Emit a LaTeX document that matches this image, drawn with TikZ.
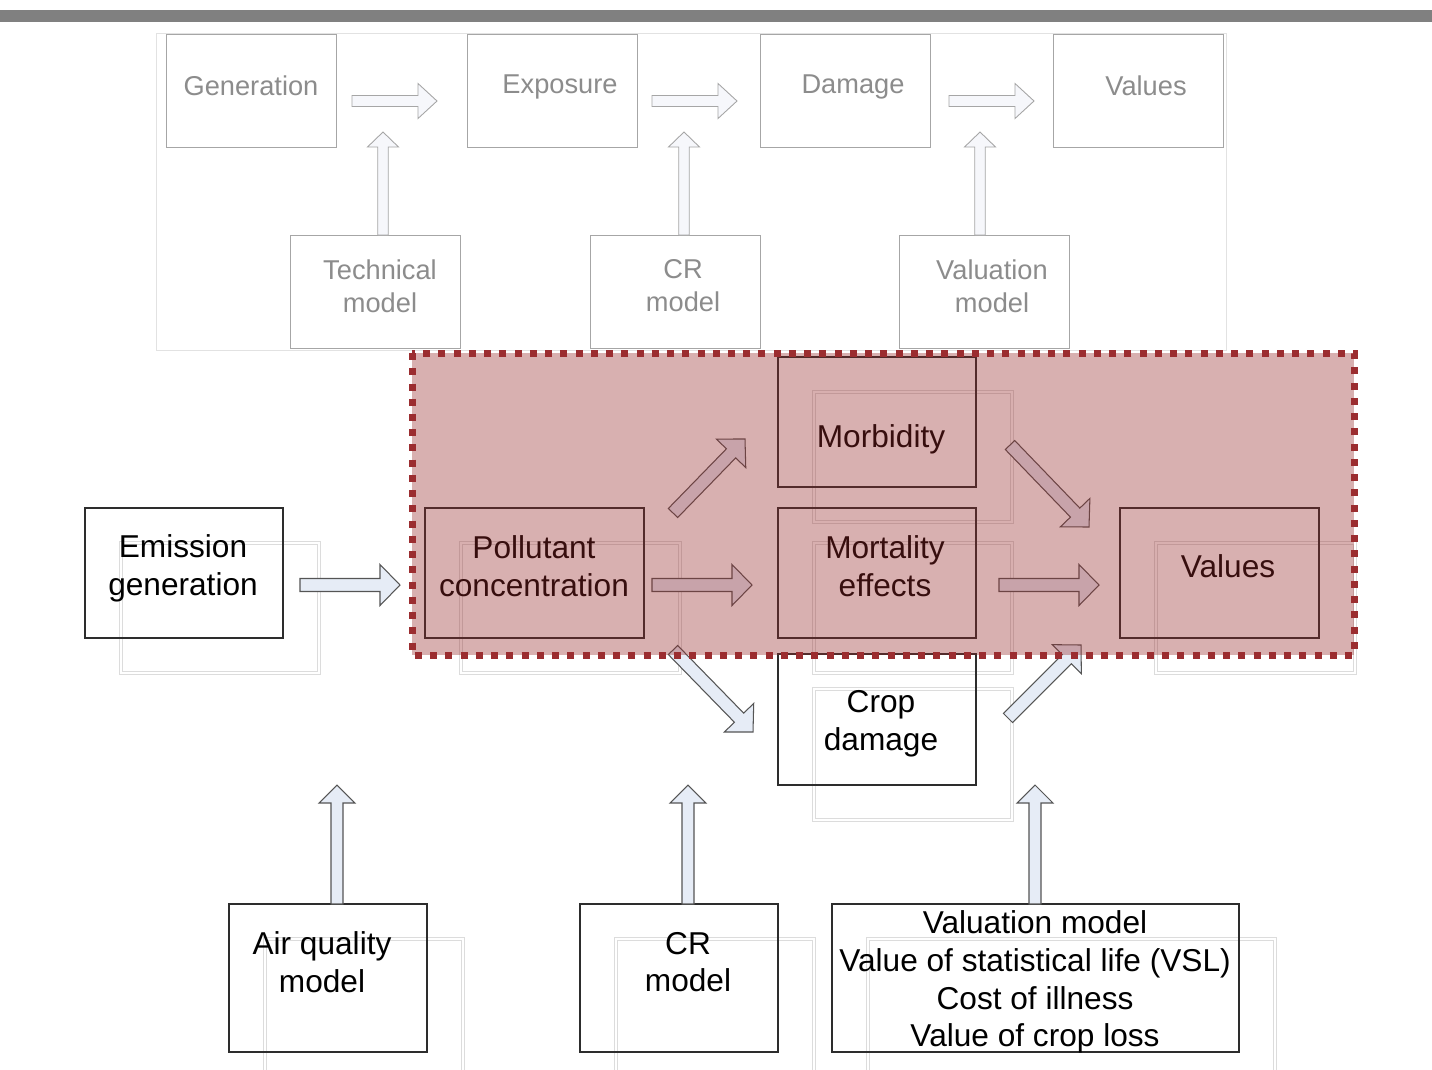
\documentclass[tikz,border=0pt]{standalone}
\usepackage{fontspec}
\setmainfont{Liberation Sans}
\usetikzlibrary{calc}

\definecolor{bargray}{RGB}{128,128,128}
\definecolor{panelline}{RGB}{226,226,226}
\definecolor{topline}{RGB}{166,166,166}
\definecolor{toptext}{RGB}{140,140,140}
\definecolor{topfill}{RGB}{246,247,251}
\definecolor{boxline}{RGB}{45,45,45}
\definecolor{ghostline}{RGB}{220,220,220}
\definecolor{arrowfill}{RGB}{230,236,246}
\definecolor{arrowline}{RGB}{85,85,85}
\definecolor{regionfill}{RGB}{150,40,40}
\definecolor{regionline}{RGB}{155,45,48}

% #1 style, #2 tail, #3 tip, #4 half shaft, #5 half head, #6 head length
\newcommand{\blockarrow}[6]{%
  \coordinate (hb) at ($(#3)!#6!(#2)$);
  \draw[#1] ($(#2)!#4!90:(#3)$) -- ($(hb)!#4!90:(#3)$) -- ($(hb)!#5!90:(#3)$)
    -- (#3) -- ($(hb)!#5!-90:(#3)$) -- ($(hb)!#4!-90:(#3)$) -- ($(#2)!#4!-90:(#3)$) -- cycle;}

\tikzset{
  toparrow/.style={fill=topfill, draw=topline, line width=0.5pt},
  midarrow/.style={fill=arrowfill, draw=arrowline, line width=0.6pt},
  bigfont/.style={font=\fontsize{18}{21.5}\selectfont},
  smallfont/.style={font=\fontsize{15.5}{18.7}\selectfont}
}

\begin{document}
\begin{tikzpicture}[x=0.02cm, y=-0.02cm]
  \useasboundingbox (0,0) rectangle (1432,1069);
  \clip (0,0) rectangle (1432,1069);

  \fill[bargray] (0,10) rectangle (1432,22);
  \draw[panelline, fill=white, line width=0.5pt] (156,33) rectangle (1226,350);

  \begin{scope}[every node/.style={draw=topline, line width=0.55pt, inner sep=0pt,
      minimum width=3.4cm, minimum height=2.26cm}]
    \node (gen)   at (251.5,90.5)  {};
    \node (expo)  at (552,90.5)    {};
    \node (dam)   at (845.5,90.5)  {};
    \node (tval)  at (1138.5,90.5) {};
    \node (tech)  at (375,291.5)   {};
    \node (tcr)   at (675.5,291.5) {};
    \node (tvalm) at (984.5,291.5) {};
  \end{scope}

  \begin{scope}[every node/.style={smallfont, text=toptext, align=center, inner sep=0pt}]
    \node (gen-t)   at (251,86)  {Generation};
    \node (expo-t)  at (560,87)  {Exposure};
    \node (dam-t)   at (853,87)  {Damage};
    \node (tval-t)  at (1146,86) {Values};
    \node (tech-t)  at (380,286) {Technical\\model};
    \node (tcr-t)   at (683,286) {CR\\model};
    \node (tvalm-t) at (992,286) {Valuation\\model};
  \end{scope}

  \coordinate (ta1) at (352,101);  \coordinate (tb1) at (437,101);
  \coordinate (ta2) at (652,101);  \coordinate (tb2) at (737,101);
  \coordinate (ta3) at (949,101);  \coordinate (tb3) at (1034,101);
  \coordinate (tu1) at (383,235);  \coordinate (tv1) at (383,132);
  \coordinate (tu2) at (684,235);  \coordinate (tv2) at (684,132);
  \coordinate (tu3) at (980,235);  \coordinate (tv3) at (980,132);
  \foreach \i in {1,2,3} {
    \blockarrow{toparrow}{ta\i}{tb\i}{0.11cm}{0.35cm}{0.38cm}
    \blockarrow{toparrow}{tu\i}{tv\i}{0.105cm}{0.31cm}{0.30cm}
  }

  \begin{scope}[every node/.style={draw=ghostline, line width=0.35pt, double=white,
      double distance=1.2pt, inner sep=0pt}]
    \node[minimum width=3.96cm, minimum height=2.6cm] (emis-g) at (220,608)   {};
    \node[minimum width=4.38cm, minimum height=2.6cm] (poll-g) at (570.5,608) {};
    \node[minimum width=3.96cm, minimum height=2.6cm] (morb-g) at (913,457)   {};
    \node[minimum width=3.96cm, minimum height=2.6cm] (mort-g) at (913,608)   {};
    \node[minimum width=3.98cm, minimum height=2.6cm] (val-g)  at (1255.5,608) {};
    \node[minimum width=3.96cm, minimum height=2.62cm] (crop-g) at (913,754.5) {};
    \node[minimum width=3.96cm, minimum height=2.96cm] (air-g)  at (364,1013)  {};
    \node[minimum width=3.96cm, minimum height=2.96cm] (crb-g)  at (715,1013)  {};
    \node[minimum width=8.14cm, minimum height=2.96cm] (valm-g) at (1071.5,1013) {};
  \end{scope}

  \begin{scope}[every node/.style={draw=boxline, line width=0.85pt, inner sep=0pt}]
    \node[minimum width=3.96cm, minimum height=2.6cm] (emis) at (184,573)   {};
    \node[minimum width=4.38cm, minimum height=2.6cm] (poll) at (534.5,573) {};
    \node[minimum width=3.96cm, minimum height=2.6cm] (morb) at (877,422)   {};
    \node[minimum width=3.96cm, minimum height=2.6cm] (mort) at (877,573)   {};
    \node[minimum width=3.98cm, minimum height=2.6cm] (val)  at (1219.5,573) {};
    \node[minimum width=3.96cm, minimum height=2.62cm] (crop) at (877,719.5) {};
    \node[minimum width=3.96cm, minimum height=2.96cm] (air)  at (328,978)  {};
    \node[minimum width=3.96cm, minimum height=2.96cm] (crb)  at (679,978)  {};
    \node[minimum width=8.14cm, minimum height=2.96cm] (valm) at (1035.5,978) {};
  \end{scope}

  \begin{scope}[every node/.style={bigfont, text=black, align=center, inner sep=0pt}]
    \node (emis-t) at (183,568)  {Emission\\generation};
    \node (poll-t) at (534,566)  {Pollutant\\concentration};
    \node (morb-t) at (881,439)  {Morbidity};
    \node (mort-t) at (885,566)  {Mortality\\effects};
    \node (val-t)  at (1228,566) {Values};
    \node (crop-t) at (881,724)  {Crop\\damage};
    \node (air-t)  at (322,962)  {Air quality\\model};
    \node (crb-t)  at (688,962)  {CR\\model};
    \node (valm-t) at (1035,982) {Valuation model\\Value of statistical life (VSL)\\Cost of illness\\Value of crop loss};
  \end{scope}

  \coordinate (ma1) at (300,585);  \coordinate (mb1) at (400,585);
  \coordinate (ma2) at (652,585);  \coordinate (mb2) at (752,585);
  \coordinate (ma3) at (999,585);  \coordinate (mb3) at (1099,585);
  \coordinate (ma4) at (673,513);  \coordinate (mb4) at (745,439);
  \coordinate (ma5) at (1010,445); \coordinate (mb5) at (1089,527);
  \coordinate (ma6) at (673,650);  \coordinate (mb6) at (753,732);
  \coordinate (ma7) at (1008,718); \coordinate (mb7) at (1081,645);
  \foreach \i in {1,...,7} {
    \blockarrow{midarrow}{ma\i}{mb\i}{0.13cm}{0.41cm}{0.40cm}
  }

  \coordinate (bu1) at (337,904);  \coordinate (bv1) at (337,785);
  \coordinate (bu2) at (688,904);  \coordinate (bv2) at (688,785);
  \coordinate (bu3) at (1035,904); \coordinate (bv3) at (1035,785);
  \foreach \i in {1,2,3} {
    \blockarrow{midarrow}{bu\i}{bv\i}{0.12cm}{0.36cm}{0.36cm}
  }

  \fill[regionfill, fill opacity=0.37] (412,353) rectangle (1354,655);
  \draw[regionline, line width=0.14cm, dash pattern=on 0.14cm off 0.165cm]
    (412,353) rectangle (1354,655);
\end{tikzpicture}
\end{document}
